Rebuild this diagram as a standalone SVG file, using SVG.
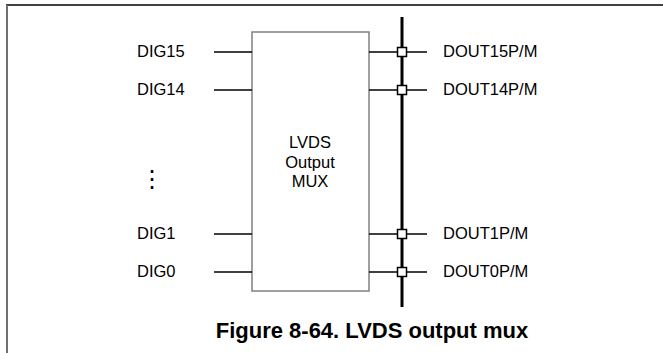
<svg xmlns="http://www.w3.org/2000/svg" width="663" height="353" viewBox="0 0 663 353">
<style>
.lbl{font-family:"Liberation Sans",Arial,sans-serif;font-size:16.5px;fill:#000}
.title{font-family:"Liberation Sans",Arial,sans-serif;font-size:22px;font-weight:bold;fill:#000}
.wire{stroke:#000;stroke-width:1.5;fill:none}
.bus{stroke:#000;stroke-width:3;fill:none}
.tap{fill:#fff;stroke:#000;stroke-width:1.5}
</style>
<rect width="663" height="353" fill="#fff"/>
<g id="frame">
<line x1="6" y1="5" x2="663" y2="5" stroke="#000" stroke-width="1.5"/>
<line x1="7" y1="5" x2="7" y2="353" stroke="#707070" stroke-width="2"/>
</g>
<g id="mux">
<rect x="252" y="32" width="117" height="259" fill="#fff" stroke="#808080" stroke-width="1.5"/>
<text class="lbl" x="310" y="148" text-anchor="middle">LVDS</text>
<text class="lbl" x="310" y="167.5" text-anchor="middle">Output</text>
<text class="lbl" x="310" y="187" text-anchor="middle">MUX</text>
</g>
<g id="inputs">
<text class="lbl" x="137" y="56.5">DIG15</text>
<text class="lbl" x="137" y="94.5">DIG14</text>
<text x="152" y="187" text-anchor="middle" style="font-family:'DejaVu Sans',sans-serif;font-size:24px">⋮</text>
<text class="lbl" x="137" y="238.5">DIG1</text>
<text class="lbl" x="137" y="276.5">DIG0</text>
</g>
<g id="outputs">
<text class="lbl" x="443" y="56.5">DOUT15P/M</text>
<text class="lbl" x="443" y="94.5">DOUT14P/M</text>
<text class="lbl" x="443" y="238.5">DOUT1P/M</text>
<text class="lbl" x="443" y="276.5">DOUT0P/M</text>
</g>
<g id="connectors">
<line class="bus" x1="402" y1="17" x2="402" y2="307"/>
<line class="wire" x1="214" y1="52" x2="252" y2="52"/>
<line class="wire" x1="214" y1="90" x2="252" y2="90"/>
<line class="wire" x1="214" y1="234" x2="252" y2="234"/>
<line class="wire" x1="214" y1="272" x2="252" y2="272"/>
<line class="wire" x1="369" y1="52" x2="427" y2="52"/>
<line class="wire" x1="369" y1="90" x2="427" y2="90"/>
<line class="wire" x1="369" y1="234" x2="427" y2="234"/>
<line class="wire" x1="369" y1="272" x2="427" y2="272"/>
<rect class="tap" x="397.5" y="47.5" width="9" height="9"/>
<rect class="tap" x="397.5" y="85.5" width="9" height="9"/>
<rect class="tap" x="397.5" y="229.5" width="9" height="9"/>
<rect class="tap" x="397.5" y="267.5" width="9" height="9"/>
</g>
<g id="caption">
<text class="title" x="372" y="338" text-anchor="middle">Figure 8-64. LVDS output mux</text>
</g>
</svg>
